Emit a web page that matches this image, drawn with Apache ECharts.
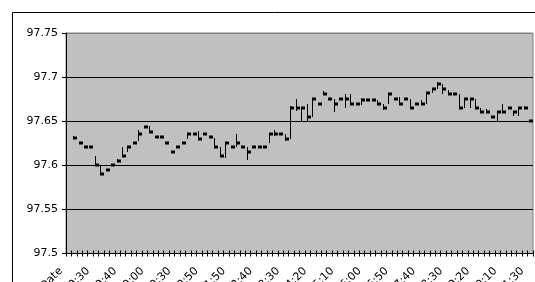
<!DOCTYPE html>
<html><head><meta charset="utf-8">
<script src="https://cdn.jsdelivr.net/npm/echarts@6/dist/echarts.min.js"></script>
<style>html,body{margin:0;padding:0;background:#fff}#c{width:535px;height:282px}</style>
</head><body><div id="c"></div>
<script>
const categories = ["Date","9:22","9:24","9:26","9:28","9:30","9:32","9:34","9:36","9:38","9:40","9:44","9:48","9:52","9:56","10:00","10:06","10:12","10:18","10:24","10:30","10:34","10:38","10:42","10:46","10:50","11:02","11:14","11:26","11:38","11:50","12:00","12:10","12:20","12:30","12:40","12:50","13:00","13:10","13:20","13:30","13:40","13:50","14:00","14:10","14:20","14:30","14:40","14:50","15:00","15:10","15:20","15:30","15:40","15:50","16:00","16:10","16:20","16:30","16:40","16:50","17:00","17:10","17:20","17:30","17:40","17:50","18:00","18:10","18:20","18:30","18:40","18:50","19:00","19:10","19:20","19:30","19:40","19:50","20:00","20:10","20:26","20:42","20:58","21:14","21:30"];
const closes = [null,97.631,97.625,97.621,97.621,97.600,97.590,97.595,97.600,97.605,97.611,97.621,97.625,97.635,97.643,97.638,97.632,97.632,97.625,97.615,97.621,97.625,97.636,97.636,97.630,97.636,97.632,97.621,97.610,97.625,97.621,97.625,97.621,97.615,97.621,97.621,97.621,97.636,97.636,97.636,97.630,97.665,97.665,97.665,97.655,97.675,97.670,97.681,97.675,97.670,97.675,97.675,97.670,97.670,97.674,97.674,97.674,97.670,97.665,97.681,97.675,97.670,97.675,97.665,97.670,97.670,97.682,97.686,97.692,97.686,97.681,97.681,97.665,97.675,97.675,97.665,97.660,97.660,97.655,97.660,97.660,97.665,97.660,97.665,97.665,97.650];
const highs = [null,97.633,97.625,97.621,97.621,97.611,97.600,97.595,97.600,97.607,97.621,97.621,97.625,97.640,97.643,97.645,97.632,97.632,97.625,97.615,97.621,97.625,97.637,97.636,97.639,97.636,97.632,97.631,97.621,97.626,97.621,97.635,97.621,97.621,97.621,97.621,97.621,97.636,97.640,97.636,97.635,97.667,97.675,97.665,97.670,97.675,97.670,97.684,97.675,97.675,97.676,97.681,97.681,97.670,97.676,97.674,97.674,97.674,97.670,97.682,97.675,97.677,97.675,97.675,97.670,97.674,97.682,97.688,97.695,97.692,97.685,97.681,97.681,97.675,97.675,97.675,97.665,97.664,97.655,97.660,97.670,97.665,97.660,97.665,97.667,97.650];
const lows = [null,97.631,97.625,97.621,97.621,97.600,97.590,97.595,97.600,97.605,97.611,97.615,97.625,97.628,97.643,97.638,97.632,97.632,97.625,97.615,97.621,97.625,97.630,97.636,97.629,97.636,97.632,97.621,97.610,97.608,97.621,97.621,97.621,97.606,97.621,97.621,97.621,97.625,97.633,97.636,97.627,97.630,97.661,97.650,97.650,97.655,97.670,97.681,97.675,97.660,97.675,97.665,97.670,97.670,97.668,97.674,97.674,97.670,97.663,97.670,97.675,97.670,97.675,97.665,97.670,97.670,97.670,97.682,97.686,97.681,97.681,97.681,97.665,97.665,97.665,97.665,97.660,97.660,97.655,97.650,97.660,97.665,97.656,97.656,97.665,97.650];
const yMin = 97.5, yMax = 97.75, yStep = 0.05;

const data = [];
for (let i = 0; i < categories.length; i++) {
  if (closes[i] == null) continue;
  data.push([i, highs[i], lows[i], closes[i]]);
}
const font = 'DejaVu Sans';
const chart = echarts.init(document.getElementById('c'), null, {renderer: 'canvas'});
chart.setOption({
  animation: false,
  backgroundColor: '#fff',
  graphic: [{type: 'rect', left: 10, top: 10, z: -10, silent: true,
    shape: {x: 0.5, y: 0.5, width: 600, height: 400}, style: {fill: 'none', stroke: '#000', lineWidth: 1}}],
  grid: {left: 66, right: 2, top: 33, bottom: 28.5, containLabel: false, outerBoundsMode: 'none',
    show: true, backgroundColor: '#c0c0c0', borderColor: '#808080', borderWidth: 1},
  xAxis: [{
    type: 'category', data: categories, boundaryGap: true, position: 'bottom',
    axisLine: {show: true, lineStyle: {color: '#000', width: 1}},
    axisTick: {show: true, interval: 0, length: 3, inside: false, lineStyle: {color: '#000'}},
    axisLabel: {interval: 4, rotate: 45, margin: 8, padding: [0, 11, 0, 0], color: '#000', fontFamily: font, fontSize: 11},
    splitLine: {show: false}
  }, {
    type: 'category', data: categories, boundaryGap: true, position: 'bottom', gridIndex: 0,
    axisLine: {show: false},
    axisTick: {show: true, interval: 0, length: 3, inside: true, lineStyle: {color: '#000'}},
    axisLabel: {show: false}, splitLine: {show: false}
  }],
  yAxis: {
    type: 'value', min: yMin, max: yMax, interval: yStep,
    axisLine: {show: true, lineStyle: {color: '#000'}},
    axisTick: {show: true, length: 4, lineStyle: {color: '#000'}},
    axisLabel: {color: '#000', fontFamily: font, fontSize: 11, margin: 8,
      formatter: v => String(parseFloat(v.toFixed(2)))},
    splitLine: {show: true, lineStyle: {color: ['#000', '#000', '#000', '#000', '#000', '#808080'], width: 1}}
  },
  series: [{
    type: 'custom', xAxisIndex: 0, yAxisIndex: 0, data: data,
    encode: {x: 0, y: [1, 2, 3]},
    renderItem: function (params, api) {
      const i = api.value(0);
      const ph = api.coord([i, api.value(1)]);
      const pl = api.coord([i, api.value(2)]);
      const pc = api.coord([i, api.value(3)]);
      const x = Math.round(ph[0]) - 0.5;
      const children = [];
      if (Math.abs(pl[1] - ph[1]) > 0.5) {
        children.push({type: 'line', shape: {x1: x, y1: Math.round(ph[1]), x2: x, y2: Math.round(pl[1])},
          style: {stroke: '#000', lineWidth: 1}});
      }
      children.push({type: 'rect', shape: {x: x - 0.5, y: Math.round(pc[1]) - 1.5, width: 4, height: 3},
        style: {fill: '#000'}});
      return {type: 'group', children: children};
    }
  }]
});
</script></body></html>
